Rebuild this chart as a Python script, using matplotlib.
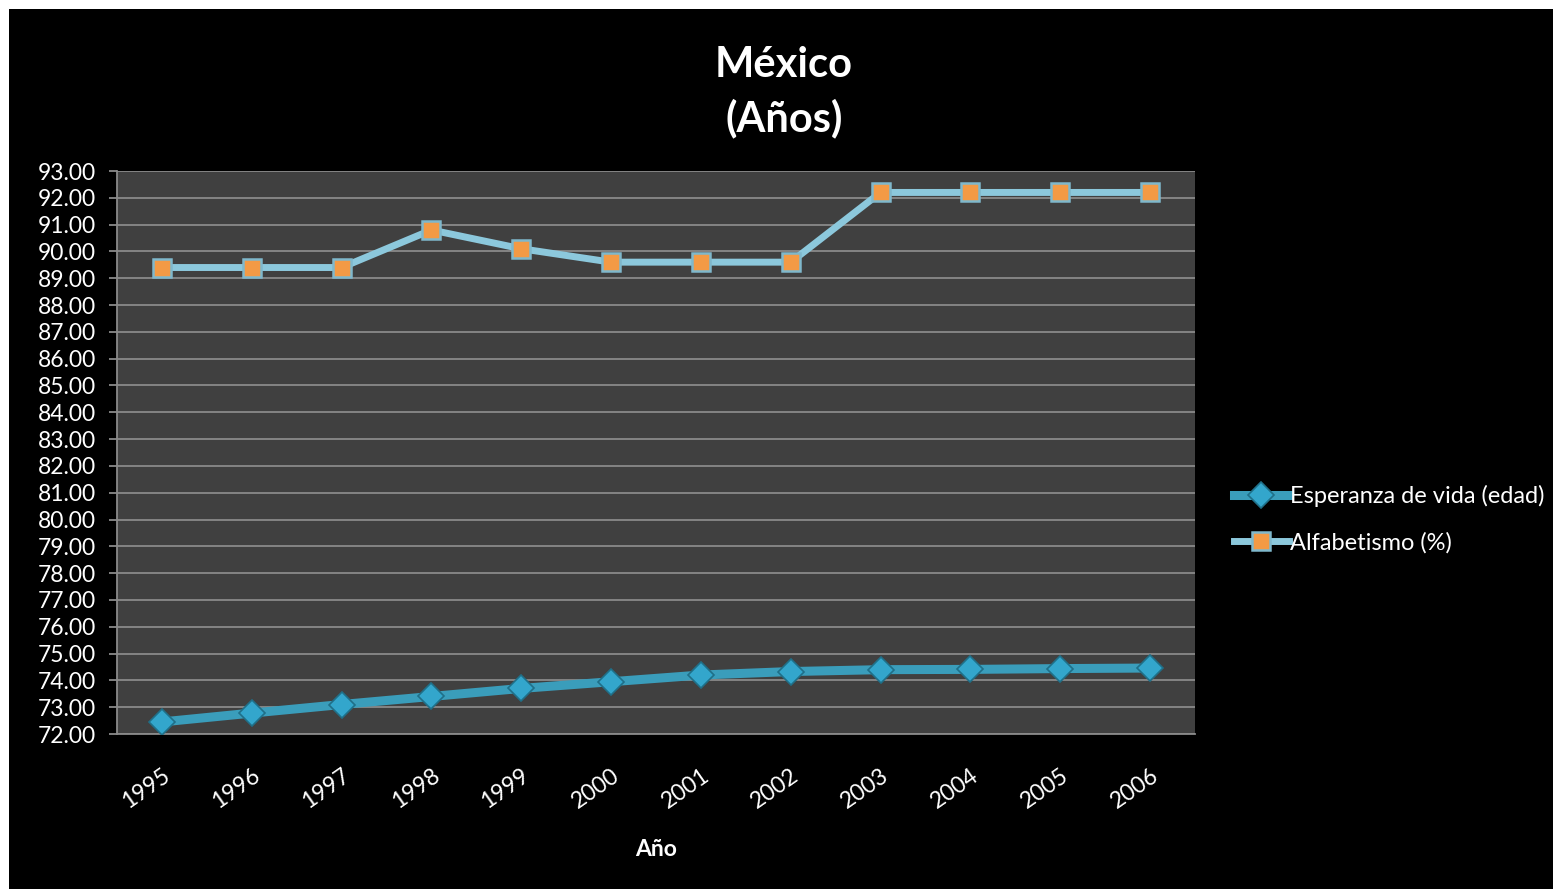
import matplotlib.pyplot as plt
from matplotlib.patches import Rectangle

# datos
anios = ['1995', '1996', '1997', '1998', '1999', '2000',
         '2001', '2002', '2003', '2004', '2005', '2006']
esperanza = [72.45, 72.78, 73.1, 73.4, 73.7, 73.95,
             74.2, 74.33, 74.4, 74.41, 74.44, 74.46]
alfabetismo = [89.4, 89.4, 89.4, 90.8, 90.1, 89.6,
               89.6, 89.6, 92.2, 92.2, 92.2, 92.2]
yticks = list(range(72, 94))

plt.rcParams['font.family'] = ['Lato', 'DejaVu Sans']

fig = plt.figure(figsize=(15.53, 8.89), dpi=100)
fig.patch.set_facecolor('white')
# fondo negro con borde blanco arriba e izquierda
fig.add_artist(Rectangle((9 / 1553, 0), 1, 1 - 9 / 889, transform=fig.transFigure,
                         facecolor='black', edgecolor='none', zorder=0))

ax = fig.add_axes([117 / 1553, 1 - 734 / 889, (1195 - 117) / 1553, (734 - 171) / 889])
ax.set_facecolor('#404040')

x = list(range(len(anios)))
ax.plot(x, esperanza, color='#3A9DBB', lw=6.5, marker='D', ms=13.5,
        markerfacecolor='#33A6CC', markeredgecolor='#1F6F88', markeredgewidth=1.2,
        label='Esperanza de vida (edad)', zorder=3)
ax.plot(x, alfabetismo, color='#8CC8DC', lw=5, marker='s', ms=13.5,
        markerfacecolor='#F39A45', markeredgecolor='#7FB8CC', markeredgewidth=1.8,
        label='Alfabetismo (%)', zorder=3)

ax.set_xlim(-0.5, 11.5)
ax.set_ylim(72, 93)
ax.set_yticks(yticks)
ax.set_yticklabels(['%.2f' % v for v in yticks])
ax.set_xticks(x)
ax.set_xticklabels(anios, rotation=35, ha='right', rotation_mode='anchor')
ax.grid(axis='y', color='#8a8a8a', lw=1.3)
ax.set_axisbelow(True)

for s in ['top', 'right']:
    ax.spines[s].set_visible(False)
for s in ['left', 'bottom']:
    ax.spines[s].set_color('#8a8a8a')
    ax.spines[s].set_linewidth(1.3)
ax.tick_params(axis='y', colors='#8a8a8a', labelcolor='white', labelsize=16.5,
               length=6, width=1.3, pad=9)
ax.tick_params(axis='x', length=0, labelcolor='white', labelsize=16.5, pad=22)

ax.set_xlabel('Año', color='white', fontsize=16.5, fontweight='bold', labelpad=19)

fig.text(784 / 1553, 1 - 92.5 / 889, 'México\n(Años)', color='white', fontsize=30,
         fontweight='bold', ha='center', va='center', linespacing=1.45)

leg = ax.legend(loc='center left', bbox_to_anchor=(1.0365, 0.382), frameon=False,
                fontsize=17, labelcolor='white', handlelength=2.3,
                handletextpad=0.05, labelspacing=1.05, borderpad=0, borderaxespad=0)

fig.savefig('out.png', dpi=100, facecolor=fig.get_facecolor())
